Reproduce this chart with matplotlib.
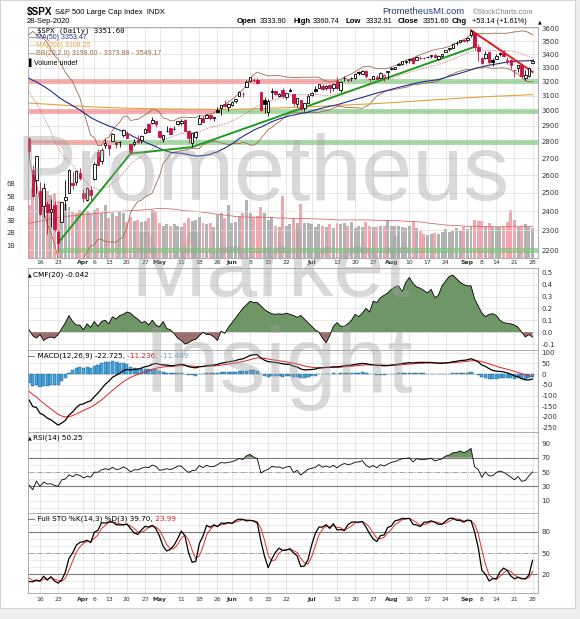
import numpy as np
import pandas as pd
import matplotlib
matplotlib.use('Agg')
import matplotlib.pyplot as plt
from matplotlib.patches import Rectangle

plt.rcParams['font.family'] = ['DejaVu Sans']
plt.rcParams['axes.unicode_minus'] = False
W, H = 580, 619

# ---------------- data ----------------
holidays = ['2020-04-10', '2020-05-25', '2020-07-03', '2020-09-07']
dates = pd.bdate_range('2020-03-11', '2020-09-28')
dates = dates[~dates.isin(pd.to_datetime(holidays))]

# daily OHLC, Mar 11 .. Sep 28
opens = [2825.60, 2630.86, 2569.99, 2508.59, 2425.66, 2436.50, 2393.48, 2431.94, 2290.71, 2344.44,
         2457.77, 2501.29, 2555.87, 2558.98, 2614.69,
         2498.08, 2458.54, 2514.92, 2578.28, 2738.65, 2685.00, 2776.99, 2782.46, 2805.10, 2795.64,
         2799.34, 2842.43, 2845.62, 2784.81, 2787.89, 2810.42, 2812.64, 2854.65, 2909.96, 2918.46, 2930.91,
         2869.09, 2815.01, 2868.88, 2883.14, 2878.26, 2908.83, 2915.46, 2939.50, 2865.86, 2794.54,
         2829.95, 2913.86, 2948.59, 2953.63, 2969.95, 2948.05, 3004.08, 3015.65, 3046.61, 3025.17,
         3038.78, 3064.78, 3098.90, 3111.56, 3163.84, 3199.92, 3213.32, 3213.42, 3123.53, 3071.04,
         2993.76, 3131.00, 3136.13, 3101.64, 3140.29, 3094.42, 3138.70, 3114.40, 3046.60, 3073.20,
         3018.59, 3050.20,
         3105.92, 3143.64, 3155.29, 3166.44, 3153.07, 3176.17, 3152.47, 3205.08, 3141.11, 3225.98,
         3208.36, 3224.21, 3224.29, 3268.52, 3254.86, 3271.64, 3218.58, 3219.84, 3234.27, 3227.22,
         3231.76, 3270.45,
         3288.26, 3289.92, 3317.37, 3323.17, 3340.05, 3356.04, 3370.34, 3355.46, 3372.95, 3368.66,
         3380.86, 3387.04, 3392.51, 3360.48, 3386.01, 3418.09, 3435.95, 3449.97, 3485.14, 3494.69,
         3509.73,
         3507.44, 3543.76, 3564.74, 3453.60, 3371.88, 3369.82, 3412.56, 3352.70, 3363.56, 3407.73,
         3411.23, 3346.86, 3357.38, 3285.57, 3295.75, 3320.11, 3226.14, 3236.66, 3333.90]
highs = [2825.60, 2660.95, 2711.33, 2562.98, 2553.93, 2453.57, 2466.97, 2453.01, 2300.73, 2449.71,
         2571.42, 2637.01, 2615.91, 2631.80, 2641.39,
         2522.75, 2533.22, 2538.18, 2676.85, 2756.89, 2760.75, 2818.57, 2782.46, 2851.85, 2801.88,
         2806.51, 2879.22, 2868.98, 2785.54, 2815.10, 2844.90, 2842.71, 2887.72, 2921.15, 2954.86, 2930.91,
         2869.09, 2844.24, 2898.23, 2891.11, 2901.92, 2932.16, 2944.25, 2945.82, 2874.14, 2852.80,
         2865.01, 2968.09, 2964.21, 2980.29, 2978.50, 2956.76, 3021.72, 3036.25, 3068.67, 3049.17,
         3062.18, 3081.07, 3130.94, 3128.91, 3211.72, 3233.13, 3222.71, 3223.27, 3123.53, 3088.42,
         3079.76, 3153.45, 3141.16, 3120.00, 3155.53, 3120.92, 3154.90, 3115.01, 3086.25, 3073.73,
         3053.89, 3111.51,
         3128.44, 3165.81, 3182.59, 3184.15, 3171.80, 3179.78, 3186.82, 3235.32, 3200.95, 3238.28,
         3220.39, 3233.52, 3258.61, 3277.29, 3279.32, 3279.99, 3227.26, 3241.43, 3243.72, 3264.74,
         3250.92, 3272.17,
         3302.73, 3306.84, 3330.77, 3351.03, 3352.54, 3363.29, 3381.01, 3387.89, 3387.24, 3378.51,
         3387.59, 3395.06, 3399.54, 3390.80, 3399.96, 3432.09, 3444.21, 3481.07, 3501.38, 3509.23,
         3514.77,
         3528.03, 3588.11, 3564.85, 3479.15, 3379.97, 3424.77, 3425.55, 3368.95, 3402.93, 3419.48,
         3428.92, 3375.17, 3362.27, 3285.57, 3320.31, 3323.35, 3278.70, 3306.88, 3360.74]
lows = [2707.22, 2478.86, 2492.37, 2380.94, 2367.04, 2280.52, 2319.78, 2295.56, 2191.86, 2344.44,
        2407.53, 2500.72, 2520.02, 2545.28, 2571.15,
        2447.49, 2455.79, 2459.96, 2574.57, 2657.67, 2663.30, 2762.36, 2721.17, 2805.10, 2761.54,
        2764.32, 2830.88, 2820.43, 2727.10, 2775.95, 2794.26, 2791.76, 2852.89, 2860.71, 2912.16, 2892.47,
        2821.61, 2797.85, 2863.55, 2847.65, 2876.48, 2902.88, 2903.44, 2869.59, 2793.15, 2766.64,
        2816.78, 2913.86, 2922.35, 2953.63, 2938.57, 2933.59, 2988.17, 2969.75, 3023.40, 2998.61,
        3031.54, 3051.64, 3098.90, 3090.41, 3163.84, 3196.00, 3193.11, 3181.49, 2999.49, 2984.47,
        2965.66, 3076.06, 3108.03, 3093.51, 3083.11, 3079.39, 3127.12, 3032.13, 3024.01, 3004.63,
        2999.74, 3047.83,
        3101.17, 3124.52, 3155.29, 3142.93, 3136.53, 3115.70, 3136.22, 3149.43, 3127.66, 3200.76,
        3198.59, 3205.65, 3215.16, 3247.77, 3253.10, 3222.66, 3200.05, 3214.25, 3216.17, 3227.22,
        3204.13, 3220.26,
        3284.53, 3286.37, 3317.37, 3318.14, 3328.72, 3335.44, 3326.44, 3355.46, 3363.35, 3361.64,
        3379.22, 3370.15, 3369.66, 3354.69, 3379.31, 3413.13, 3425.84, 3444.15, 3468.35, 3484.32,
        3493.25,
        3494.60, 3535.23, 3427.41, 3349.63, 3329.27, 3366.84, 3329.25, 3310.47, 3363.56, 3389.25,
        3384.45, 3328.82, 3292.40, 3229.10, 3270.95, 3232.57, 3209.45, 3228.44, 3332.91]
closes = [2741.38, 2480.64, 2711.02, 2386.13, 2529.19, 2398.10, 2409.39, 2304.92, 2237.40, 2447.33,
          2475.56, 2630.07, 2541.47, 2626.65, 2584.59,
          2470.50, 2526.90, 2488.65, 2663.68, 2659.41, 2749.98, 2789.82, 2761.63, 2846.06, 2783.36,
          2799.55, 2874.56, 2823.16, 2736.56, 2799.31, 2797.80, 2836.74, 2878.48, 2863.39, 2939.51, 2912.43,
          2830.71, 2842.74, 2868.44, 2848.42, 2881.19, 2929.80, 2930.32, 2870.12, 2820.00, 2852.50,
          2863.70, 2953.91, 2922.94, 2971.61, 2948.51, 2955.45, 2991.77, 3036.13, 3029.73, 3044.31,
          3055.73, 3080.82, 3122.87, 3112.35, 3193.93, 3232.39, 3207.18, 3190.14, 3002.10, 3041.31,
          3066.59, 3124.74, 3113.49, 3115.34, 3097.74, 3117.86, 3131.29, 3050.33, 3083.76, 3009.05,
          3053.24, 3100.29,
          3115.86, 3130.01, 3179.72, 3145.32, 3169.94, 3152.05, 3185.04, 3155.22, 3197.52, 3226.56,
          3215.57, 3224.73, 3251.84, 3257.30, 3276.02, 3235.66, 3215.63, 3239.41, 3218.44, 3258.44,
          3246.22, 3271.12,
          3294.61, 3306.51, 3327.77, 3349.16, 3351.28, 3360.47, 3333.69, 3380.35, 3373.43, 3372.85,
          3381.99, 3389.78, 3374.85, 3385.51, 3397.16, 3431.28, 3443.62, 3478.73, 3484.55, 3508.01,
          3500.31,
          3526.65, 3580.84, 3455.06, 3426.96, 3331.84, 3398.96, 3339.19, 3340.97, 3383.54, 3401.20,
          3385.49, 3357.01, 3319.47, 3281.06, 3315.57, 3236.92, 3246.59, 3298.46, 3351.60]
# volume in billions
volume = [4.3, 5.6, 5.1, 5.0, 5.2, 5.4, 5.1, 5.3, 4.6, 4.5, 4.4, 4.1, 3.7, 3.6, 3.9,
          3.6, 3.8, 3.6, 3.9, 4.0, 3.6, 4.3, 3.2, 3.6, 3.4, 3.7, 3.6, 2.9, 3.3, 3.0, 3.1, 2.9,
          3.0, 3.2, 3.9, 3.8,
          2.8, 2.6, 2.7, 2.6, 2.7, 2.6, 2.5, 2.8, 3.2, 3.0, 3.1, 3.3, 2.8, 2.7, 2.8, 2.5, 3.5,
          3.6, 3.2, 4.3,
          2.8, 2.9, 3.4, 3.6, 4.7, 3.6, 3.3, 3.4, 4.1, 3.6, 3.1, 3.3, 2.6, 2.5, 5.0, 2.6, 2.7,
          3.2, 2.8, 4.4, 2.8, 2.8,
          2.7, 2.5, 2.7, 2.6, 2.5, 2.7, 2.4, 2.8, 2.7, 2.8, 2.6, 2.9, 2.4, 2.6, 2.5, 2.9, 2.6,
          2.5, 2.5, 2.6, 2.6, 3.1,
          2.6, 2.6, 2.6, 2.5, 2.4, 2.6, 2.9, 2.4, 2.2, 1.9, 1.8, 1.9, 2.0, 1.9, 2.1, 2.3, 2.1,
          2.2, 2.4, 2.2, 2.5,
          2.3, 2.6, 3.1, 3.0, 3.0, 2.6, 2.8, 2.5, 2.5, 2.5, 2.6, 2.9, 3.9, 3.1, 2.5, 2.6, 2.7,
          2.5, 2.4]
cmf = [0.02, -0.03, -0.05, -0.02, -0.07, -0.05, -0.04, -0.05, -0.02, 0.03, 0.08, 0.14, 0.09,
       0.06, 0.06, 0.02, 0.07, 0.04, 0.09, 0.05, 0.09, 0.10, 0.07, 0.13, 0.11, 0.14, 0.15, 0.17,
       0.16, 0.13, 0.11, 0.08, 0.09, 0.06, 0.10, 0.06, 0.045, 0.09, 0.03, 0.02, -0.01, -0.05,
       -0.07, -0.10, -0.09, -0.07, -0.06, -0.03, 0.0, -0.02, -0.02, -0.04, -0.07, 0.01, -0.01,
       0.04, 0.08, 0.12, 0.16, 0.20, 0.23, 0.26, 0.25, 0.25, 0.22, 0.19, 0.17, 0.155, 0.15,
       0.155, 0.15, 0.16, 0.15, 0.14, 0.125, 0.14, 0.11, 0.08, 0.05, 0.02, 0.0, -0.05, -0.09,
       -0.03, 0.05, 0.08, 0.05, 0.05, 0.07, 0.10, 0.15, 0.13, 0.16, 0.20, 0.17, 0.26, 0.25,
       0.29, 0.31, 0.33, 0.36, 0.38, 0.39, 0.34, 0.42, 0.46, 0.41, 0.38, 0.37, 0.35, 0.33,
       0.36, 0.29, 0.31, 0.39, 0.43, 0.47, 0.48, 0.45, 0.42, 0.40, 0.39, 0.39, 0.28, 0.22,
       0.16, 0.13, 0.15, 0.155, 0.14, 0.10, 0.08, 0.075, 0.07, 0.06, 0.04, 0.0, -0.04, -0.02,
       -0.042]

# history before Mar 11 (for moving averages / oscillators)
pre_close = [3240.02, 3221.29, 3230.78,
             3257.85, 3234.85, 3246.28, 3237.18, 3253.05, 3274.70, 3265.35, 3288.13, 3283.15,
             3289.29, 3316.81, 3329.62, 3320.79, 3321.75, 3325.54, 3295.47, 3243.63, 3276.24,
             3273.40, 3283.66, 3225.52,
             3248.92, 3297.59, 3334.69, 3345.78, 3327.71, 3352.09, 3357.75, 3379.45, 3373.94,
             3380.16, 3370.29, 3386.15, 3373.23, 3337.75, 3225.89, 3128.21, 3116.39, 2978.76, 2954.22,
             3090.23, 3003.37, 3130.12, 3023.94, 2972.37, 2746.56, 2882.23]
pre_volume = [1.6, 2.0, 1.9,
              2.3, 2.1, 2.3, 2.3, 2.3, 2.3, 2.1, 2.1, 2.2, 2.2, 2.5, 2.5, 2.3, 2.2, 2.3, 2.2, 2.4,
              2.2, 2.3, 2.2, 2.6,
              2.4, 2.5, 2.5, 2.3, 2.1, 2.0, 2.2, 2.1, 2.1, 2.1, 2.2, 2.0, 2.1, 2.3, 3.6, 3.9, 3.7,
              4.5, 5.2,
              4.3, 4.4, 3.6, 4.0, 4.6, 5.1, 4.8]
# Feb 14 .. Mar 10
pre_high = [3380.69, 3375.01, 3393.52, 3389.15, 3360.49, 3259.81, 3246.99, 3182.51, 3097.07,
            2959.72, 3090.96, 3136.72, 3130.97, 3083.04, 2985.93, 2863.89, 2882.59]
pre_low = [3366.15, 3355.61, 3378.83, 3341.02, 3328.45, 3214.65, 3118.77, 3108.99, 2977.39,
           2855.84, 2945.19, 2976.63, 3034.38, 2999.83, 2901.54, 2734.43, 2734.00]

# 200-day average
ma200_dates = ['2020-03-11', '2020-03-16', '2020-03-23', '2020-03-30', '2020-04-06', '2020-04-13',
               '2020-04-20', '2020-04-27', '2020-05-04', '2020-05-11', '2020-05-18', '2020-05-26',
               '2020-06-01', '2020-06-08', '2020-06-15', '2020-06-22', '2020-06-29', '2020-07-06',
               '2020-07-13', '2020-07-20', '2020-07-27', '2020-08-03', '2020-08-10', '2020-08-17',
               '2020-08-24', '2020-08-31', '2020-09-08', '2020-09-14', '2020-09-21', '2020-09-28']
ma200_vals = [3050, 3046, 3038, 3030, 3024, 3020, 3016, 3013, 3011, 3010, 3009, 3008, 3008, 3011,
              3015, 3019, 3024, 3028, 3034, 3040, 3046, 3053, 3061, 3069, 3077, 3085, 3092, 3097,
              3102, 3108]

tick_dates = ['2020-03-16', '2020-03-23', '2020-04-01', '2020-04-06', '2020-04-13', '2020-04-20',
              '2020-04-27', '2020-05-01', '2020-05-11', '2020-05-18', '2020-05-26', '2020-06-01',
              '2020-06-08', '2020-06-15', '2020-06-22', '2020-07-01', '2020-07-13', '2020-07-20',
              '2020-07-27', '2020-08-03', '2020-08-10', '2020-08-17', '2020-08-24', '2020-09-01',
              '2020-09-08', '2020-09-14', '2020-09-21', '2020-09-28']
tick_labels = ['16', '23', 'Apr', '6', '13', '20', '27', 'May', '11', '18', '26', 'Jun', '8', '15',
               '22', 'Jul', '13', '20', '27', 'Aug', '10', '17', '24', 'Sep', '8', '14', '21', '28']
months = ['Apr', 'May', 'Jun', 'Jul', 'Aug', 'Sep']

# support / resistance bands: (level, start date, end date, colour)
bands = [(3200, '2020-03-11', '2020-07-13', 'red'), (3200, '2020-07-13', '2020-09-28', 'green'),
         (3000, '2020-03-11', '2020-05-26', 'red'), (3000, '2020-05-26', '2020-09-28', 'green'),
         (2800, '2020-03-11', '2020-04-14', 'red'), (2800, '2020-04-14', '2020-09-28', 'green'),
         (2200, '2020-03-23', '2020-09-28', 'green')]
up_trend_dates = ['2020-03-23', '2020-04-21', '2020-05-14', '2020-09-03']
up_trend_vals = [2237.4, 2727.1, 2766.6, 3455.1]
down_trend_dates = ['2020-09-02', '2020-09-28']
down_trend_vals = [3585, 3268]

# ---------------- indicators ----------------
n = len(closes)
x = np.arange(n)
opens, highs, lows, closes = map(np.array, (opens, highs, lows, closes))
volume, cmf = np.array(volume), np.array(cmf)

allc = pd.Series(pre_close + list(closes))
ma50 = allc.rolling(50).mean().values[-n:]
bb_mid = allc.rolling(20).mean().values[-n:]
bb_sd = allc.rolling(20).std(ddof=0).values[-n:]
bb_up, bb_lo = bb_mid + 2 * bb_sd, bb_mid - 2 * bb_sd

ema12 = allc.ewm(span=12, adjust=False).mean()
ema26 = allc.ewm(span=26, adjust=False).mean()
macd_s = ema12 - ema26
sig_s = macd_s.ewm(span=9, adjust=False).mean()
macd = macd_s.values[-n:]
sig = sig_s.values[-n:]
hist = macd - sig

d = allc.diff()
gain = d.clip(lower=0).ewm(alpha=1 / 14, adjust=False).mean()
loss = (-d.clip(upper=0)).ewm(alpha=1 / 14, adjust=False).mean()
rsi = (100 - 100 / (1 + gain / loss)).values[-n:]

sh = pd.Series(pre_high + list(highs))
sl = pd.Series(pre_low + list(lows))
sc = pd.Series(pre_close[-len(pre_high):] + list(closes))
fastk = 100 * (sc - sl.rolling(14).min()) / (sh.rolling(14).max() - sl.rolling(14).min())
pk = fastk.rolling(3).mean()
pdd = pk.rolling(3).mean()
sto_k = pk.values[-n:]
sto_d = pdd.values[-n:]

vol_ma = pd.Series(pre_volume + list(volume)).rolling(50).mean().values[-n:]


def pos(ds):
    return dates.get_indexer(pd.to_datetime(ds))


tick_pos = pos(tick_dates)

# ---------------- figure ----------------
fig = plt.figure(figsize=(W / 100, H / 100), dpi=100)
fig.patch.set_facecolor('#eeeeee')
fig.add_artist(Rectangle((0, 1 - 608 / H), 575 / W, 608 / H, transform=fig.transFigure,
                         facecolor='white', edgecolor='#d4d4d4', lw=0.8, zorder=-10))

L, R = 27.7, 538.0


def rect(top, bottom):
    return [L / W, 1 - bottom / H, (R - L) / W, (bottom - top) / H]


GRID = '#dedede'
RED = '#cc1040'


def style(ax, labels=False):
    for s in ax.spines.values():
        s.set_color('#a0a0a0')
        s.set_linewidth(0.6)
    ax.tick_params(length=0, labelsize=5, colors='#333333', pad=2.5)
    ax.set_xlim(-0.4, n + 0.5)
    ax.set_xticks(tick_pos)
    if labels:
        ax.set_xticklabels(tick_labels, fontsize=4.4)
        for t in ax.get_xticklabels():
            if t.get_text() in months:
                t.set_fontweight('bold')
    else:
        ax.set_xticklabels([])
    ax.grid(axis='x', color=GRID, lw=0.5)
    ax.set_axisbelow(True)


def ftext(px, py, s, **kw):
    kw.setdefault('va', 'center')
    kw.setdefault('fontsize', 5.2)
    return fig.text(px / W, 1 - py / H, s, **kw)


def chained(ax, px, py, parts, fs=5.2):
    # label drawn by the panel's axes so the next panel does not cover it
    t = ax.text(px / W, 1 - py / H, parts[0][0], color=parts[0][1], fontsize=fs,
                va='center', ha='left', transform=fig.transFigure, clip_on=False)
    for s, c in parts[1:]:
        t = ax.annotate(s, xy=(1, 0.5), xycoords=t, va='center', ha='left', color=c,
                        fontsize=fs, annotation_clip=False)
    return t


# ---- price panel ----
ax_v = fig.add_axes(rect(26.7, 257.5))
style(ax_v, labels=True)
ax_v.tick_params(axis='x', pad=1.5)
prev = np.r_[pre_close[-1], closes[:-1]]
down = closes < prev
ax_v.bar(x, volume, width=0.82, color=np.where(down, '#f2a7ae', '#b3b3b3'), zorder=1)
ax_v.plot(x, vol_ma, color='#e06a6a', lw=0.6, zorder=2)
ax_v.set_ylim(0, 18.84)
ax_v.set_yticks([1, 2, 3, 4, 5, 6])
ax_v.set_yticklabels(['1B', '2B', '3B', '4B', '5B', '6B'])
ax_v.tick_params(axis='y', labelsize=4.8, pad=9)

ax_p = ax_v.twinx()
ax_p.set_yscale('log')
ax_p.set_ylim(2166, 3613)
levels = list(range(2200, 3700, 100))
ax_p.set_yticks(levels)
ax_p.set_yticklabels([str(v) for v in levels])
ax_p.yaxis.set_minor_locator(plt.NullLocator())
ax_p.tick_params(axis='y', length=0, labelsize=5, colors='#333333', pad=2.5)
for s in ax_p.spines.values():
    s.set_visible(False)
for v in levels:
    ax_p.axhline(v, color=GRID, lw=0.5, zorder=0)

for lvl, d0, d1, c in bands:
    p0, p1 = pos([d0, d1])
    if p0 == 0:
        p0 = -0.4
    if p1 == n - 1:
        p1 = n + 0.5
    ax_p.plot([p0, p1], [lvl, lvl], color='#f07a7a' if c == 'red' else '#72c272',
              lw=3.6, alpha=0.6, solid_capstyle='butt', zorder=2)

ax_p.plot(x, bb_up, color='#a06a48', lw=0.6, zorder=3)
ax_p.plot(x, bb_lo, color='#a06a48', lw=0.6, zorder=3)
ax_p.plot(x, bb_mid, color='#cc7070', lw=0.6, ls=(0, (1.5, 1.5)), zorder=3)
ax_p.plot(pos(ma200_dates), ma200_vals, color='#e3a23c', lw=0.8, zorder=3)
ax_p.plot(x, ma50, color='#202f8c', lw=0.8, zorder=3)
ax_p.plot(pos(up_trend_dates), up_trend_vals, color='#219a21', lw=1.4, zorder=6)
ax_p.plot(pos(down_trend_dates), down_trend_vals, color='#e8191e', lw=1.4, zorder=6)

ccol = np.where(down, RED, 'black')
hollow = closes > opens
ax_p.vlines(x, lows, highs, colors=ccol, lw=0.6, zorder=7)
body_lo = np.minimum(opens, closes)
body_h = np.maximum(np.abs(closes - opens), 1.0)
ax_p.bar(x, body_h, bottom=body_lo, width=0.7, color=np.where(hollow, 'white', ccol),
         edgecolor=ccol, linewidth=0.6, zorder=8)

# legend in price panel
ftext(37, 31, '$SPX (Daily) 3351.60', family='DejaVu Sans Mono', fontsize=5.2)
ftext(29, 37.3, '\u2014MA(50) 3353.47', color='#202f8c', family='Liberation Sans', fontsize=5.0)
ftext(29, 45.7, '\u2014MA(200) 3108.25', color='#e3a23c', family='Liberation Sans', fontsize=5.0)
ftext(29, 53.7, '\u2014BB(20,2.0) 3198.60 - 3373.88 - 3549.17', color='#a06a48',
      family='Liberation Sans', fontsize=5.0)
ftext(29, 62.3, '\u258cVolume undef', family='Liberation Sans', fontsize=5.0)

# header
ftext(27, 12, '$SPX', fontweight='bold', family='Liberation Sans', fontsize=7.2)
ftext(55, 12, 'S&P 500 Large Cap Index  INDX', family='Liberation Sans', fontsize=5.4)
ftext(27, 21.5, '28-Sep-2020', family='Liberation Sans', fontsize=5.4)
for px, s, b in [(237, 'Open', True), (260, '3333.90', False), (293, 'High', True),
                 (313, '3360.74', False), (346, 'Low', True), (366, '3332.91', False),
                 (398, 'Close', True), (423, '3351.60', False), (452, 'Chg', True),
                 (472, '+53.14 (+1.61%)', False)]:
    ftext(px, 21.5, s, family='Liberation Sans', fontsize=5.6 if b else 5.3,
          fontweight='bold' if b else 'normal')
ftext(538, 21.5, '\u25b2', fontsize=3.5)
ftext(382, 12, 'PrometheusMI.com', color='#2b3c78', family='Liberation Sans', fontsize=6.8)
ftext(473, 12, '\u00a9StockCharts.com', color='#808080', family='Liberation Sans', fontsize=5.2)

# ---- CMF ----
ax_c = fig.add_axes(rect(268, 350))
style(ax_c)
ax_c.yaxis.tick_right()
ax_c.set_ylim(-0.15, 0.54)
cmf_ticks = [-0.1, 0.0, 0.1, 0.2, 0.3, 0.4, 0.5]
ax_c.set_yticks(cmf_ticks)
ax_c.set_yticklabels(['%.1f' % v for v in cmf_ticks])
ax_c.grid(axis='y', color=GRID, lw=0.5)
ax_c.fill_between(x, cmf, 0, where=cmf >= 0, interpolate=True, color='#6f9667', lw=0)
ax_c.fill_between(x, cmf, 0, where=cmf <= 0, interpolate=True, color='#9d6e6e', lw=0)
ax_c.plot(x, cmf, color='black', lw=0.6)
chained(ax_c, 28, 274.4, [('\u25b2', 'black')], fs=3.5)
chained(ax_c, 33, 274.4, [('CMF(20) -0.042', 'black')])

# ---- MACD ----
ax_m = fig.add_axes(rect(350, 431.7))
style(ax_m)
ax_m.yaxis.tick_right()
ax_m.set_ylim(-268.7, 112.6)
ax_m.set_yticks(range(-250, 101, 50))
ax_m.grid(axis='y', color=GRID, lw=0.5)
ax_m.bar(x, hist, width=0.85, color='#45a2d8', edgecolor='#1f5f88', linewidth=0.3)
ax_m.plot(x, sig, color='#e82020', lw=0.7)
ax_m.plot(x, macd, color='black', lw=0.9)
chained(ax_m, 28, 356, [('\u2014 MACD(12,26,9) -22.725,', 'black'), (' -11.236,', '#e02020'),
                        (' -11.489', '#5aa8d8')])

# ---- RSI ----
ax_r = fig.add_axes(rect(431.7, 512.7))
style(ax_r)
ax_r.yaxis.tick_right()
ax_r.set_ylim(-6.7, 106.2)
ax_r.set_yticks([10, 30, 50, 70, 90])
for v in range(0, 101, 10):
    ax_r.axhline(v, color='#e6e6e6', lw=0.5, zorder=0)
ax_r.axhline(70, color='#7a7a7a', lw=0.8)
ax_r.axhline(30, color='#7a7a7a', lw=0.8)
ax_r.axhline(50, color='#9a9a9a', lw=0.6, ls='-.')
ax_r.fill_between(x, rsi, 70, where=rsi >= 70, interpolate=True, color='#6f9667', lw=0)
ax_r.plot(x, rsi, color='black', lw=0.6)
chained(ax_r, 28, 438, [('\u25b2', 'black')], fs=3.5)
chained(ax_r, 33, 438, [('RSI(14) 50.25', 'black')])

# ---- Full Stochastics ----
ax_s = fig.add_axes(rect(512.7, 593.3))
style(ax_s, labels=True)
ax_s.yaxis.tick_right()
ax_s.set_ylim(-6.8, 106.8)
ax_s.set_yticks([20, 50, 80])
for v in range(0, 101, 10):
    ax_s.axhline(v, color='#e6e6e6', lw=0.5, zorder=0)
ax_s.axhline(80, color='#7a7a7a', lw=0.8)
ax_s.axhline(20, color='#7a7a7a', lw=0.8)
ax_s.axhline(50, color='#9a9a9a', lw=0.6, ls='-.')
ax_s.plot(x, sto_d, color='#e03030', lw=0.7)
ax_s.plot(x, sto_k, color='black', lw=0.9)
chained(ax_s, 28, 519, [('\u2014 Full STO %K(14,3) %D(3) 39.70,', 'black'), (' 23.99', '#e02020')])

# ---- watermark ----
for s, cx, by in [('Prometheus', 263, 200), ('Market', 270, 296), ('Insight', 278, 392)]:
    fig.text(cx / W, 1 - by / H, s, fontsize=66, family='Liberation Sans', color='#a0a0a0',
             alpha=0.4, ha='center', va='baseline', zorder=20)

fig.savefig('out.png', dpi=100, facecolor=fig.get_facecolor())
